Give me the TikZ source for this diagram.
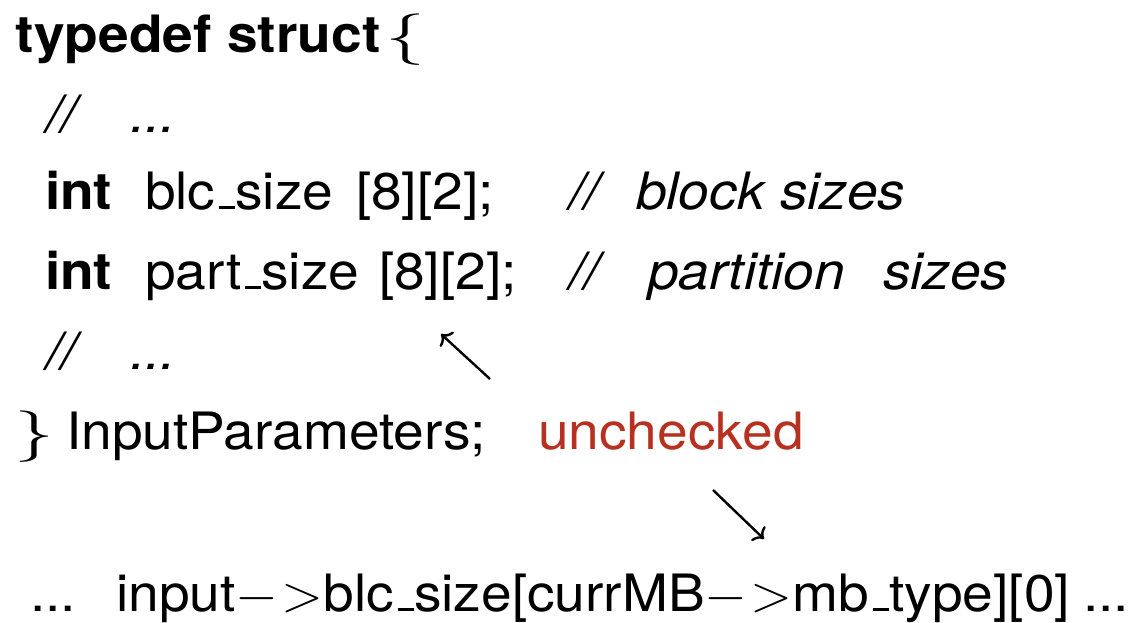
\RequirePackage{fix-cm}
\documentclass[tikz,border=0pt]{standalone}
\usepackage{fontspec}
\setmainfont{TeX Gyre Heros}
\setsansfont{TeX Gyre Heros}
\usetikzlibrary{arrows.meta}
\definecolor{uncheckedred}{RGB}{182,49,32}
\newcommand\usc{\leavevmode\kern.06em\vbox{\hrule width .3em height .055em}}
\newcommand\arw{$-$\kern 3pt$>$}
\tikzset{
  txt/.style={anchor=base west, inner sep=0pt, outer sep=0pt, xscale=1.07, font=\fontsize{51.5}{60}\selectfont},
  kw/.style={txt, font=\fontsize{51.5}{60}\selectfont\bfseries},
  cmt/.style={txt, font=\fontsize{51.5}{60}\selectfont\itshape},
  brc/.style={txt, xscale=1.45},
  ptr/.style={line width=2.4pt, -{Computer Modern Rightarrow[length=9pt,width=20pt]}}
}
\begin{document}
\begin{tikzpicture}[x=1pt,y=-1pt]
\useasboundingbox (0,0) rectangle (1133,622);
% line 1
\node[kw] (td) at (16,52) {typedef struct};
\node[brc] (lb) at (385,52) {$\{$};
% line 2
\node[cmt] (c1) at (46,132) {//};
\node[cmt] (d1) at (130,132) {...};
% line 3
\node[kw] (int1) at (45,209) {int};
\node[txt] (blc) at (145,209) {blc\usc size};
\node[txt] (ix1) at (356,209) {[8][2];};
\node[cmt] (c2) at (569,209) {//};
\node[cmt] (bs1) at (636,209) {block};
\node[cmt] (bs2) at (780,209) {sizes};
% line 4
\node[kw] (int2) at (45,289) {int};
\node[txt] (part) at (145,289) {part\usc size};
\node[txt] (ix2) at (379,289) {[8][2];};
\node[cmt] (c3) at (569,289) {//};
\node[cmt] (ps1) at (648,289) {partition};
\node[cmt] (ps2) at (883,289) {sizes};
% line 5
\node[cmt] (c4) at (46,369) {//};
\node[cmt] (d2) at (130,369) {...};
% line 6
\node[brc] (rb) at (14,449) {$\}$};
\node[txt] (ip) at (66,449) {InputParameters;};
\node[txt, text=uncheckedred] (unc) at (538,449) {unchecked};
% line 7
\node[txt] (d3) at (30,611) {...};
\node[txt] (expr) at (116,611) {input\arw blc\usc size[currMB\arw mb\usc type][0]};
\node[txt] (d4) at (1083,611) {...};
% arrows
\coordinate (a1s) at (490,379);
\coordinate (a1e) at (441,334);
\coordinate (a2s) at (713,490);
\coordinate (a2e) at (764,539);
\draw[ptr] (a1s) -- (a1e);
\draw[ptr] (a2s) -- (a2e);
\end{tikzpicture}
\end{document}
